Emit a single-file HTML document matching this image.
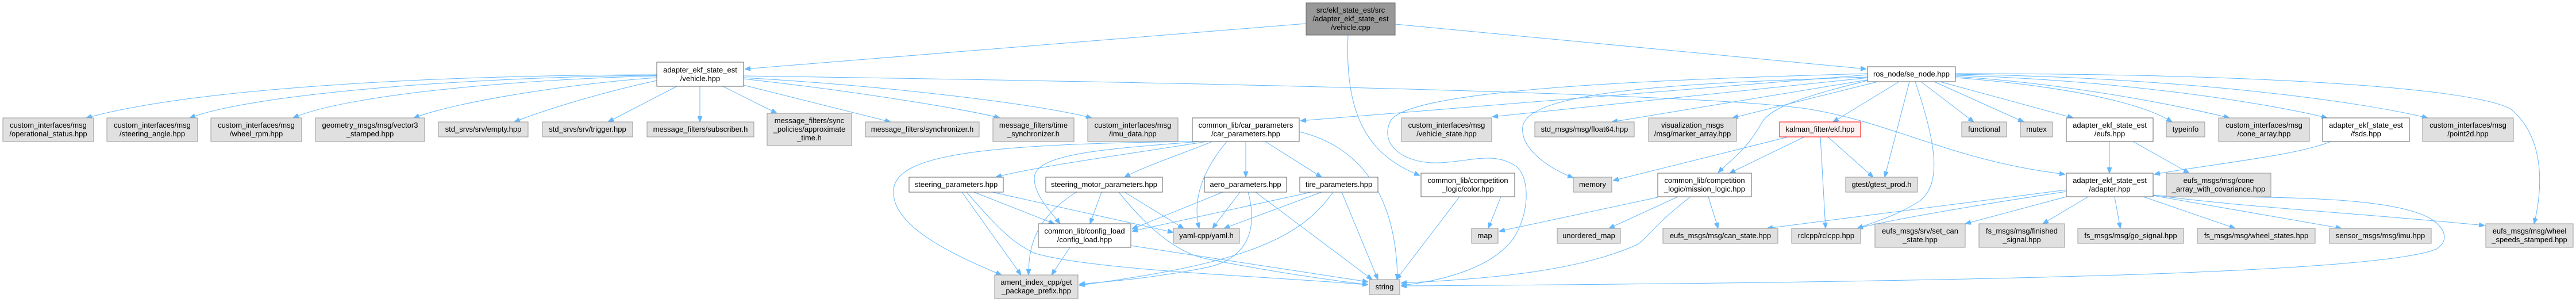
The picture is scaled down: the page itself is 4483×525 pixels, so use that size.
<!DOCTYPE html>
<html><head><meta charset="utf-8"><style>
html,body{margin:0;padding:0;background:#fff;}
svg{display:block;}
text{font-family:"Liberation Sans",Arial,sans-serif;font-size:13px;fill:#000;}
.g{fill:#e0e0e0;stroke:#999;stroke-width:1;}
.w{fill:#fff;stroke:#666;stroke-width:1;}
.d{fill:#999;stroke:#666;stroke-width:1;}
.r{fill:#fff0f0;stroke:#f00;stroke-width:1;}
path.e{fill:none;stroke:#63b8ff;stroke-width:1;marker-end:url(#a);}
</style></head><body>
<svg width="4483" height="525" viewBox="0 0 4483 525" xmlns="http://www.w3.org/2000/svg">
<defs><marker id="a" viewBox="0 0 10 8" refX="10" refY="4" markerWidth="10" markerHeight="8" markerUnits="userSpaceOnUse" orient="auto"><path d="M0,0 L10,4 L0,8z" fill="#63b8ff" stroke="#63b8ff"/></marker></defs>

<!-- edges -->
<g>
<path class="e" d="M2273,41 L1296,120"/>
<path class="e" d="M2428,42 L3248,120"/>
<path class="e" d="M2346,61 C2340,200 2380,270 2471,305"/>

<path class="e" d="M1143,130 C800,130 350,150 150,205"/>
<path class="e" d="M1143,131 C850,133 450,160 330,205"/>
<path class="e" d="M1143,132 C900,138 600,165 510,205"/>
<path class="e" d="M1143,135 C1000,145 800,175 720,205"/>
<path class="e" d="M1143,140 C1050,160 950,190 895,212"/>
<path class="e" d="M1178,150 L1058,212"/>
<path class="e" d="M1218,150 L1218,212"/>
<path class="e" d="M1258,150 L1352,197"/>
<path class="e" d="M1294,148 L1550,212"/>
<path class="e" d="M1294,137 C1500,160 1680,190 1740,205"/>
<path class="e" d="M1294,135 C1550,150 1800,180 1900,205"/>
<path class="e" d="M1294,132 C2200,145 3000,165 3150,190 C3300,215 3400,280 3594,303"/>

<path class="e" d="M3250,130 L2263,210"/>
<path class="e" d="M3252,135 L2597,203"/>
<path class="e" d="M3255,138 L2805,212"/>
<path class="e" d="M3268,142 L3015,205"/>
<path class="e" d="M3305,142 L3190,212"/>
<path class="e" d="M3250,134 C2900,145 2660,160 2650,220 C2645,260 2700,295 2738,309"/>
<path class="e" d="M3250,128 C2800,140 2450,160 2420,210 C2400,250 2440,285 2505,283 C2560,281 2600,262 2640,290 C2670,320 2655,400 2620,430 C2580,470 2500,490 2438,496"/>
<path class="e" d="M3250,140 C3150,165 3080,185 3065,215 C3040,260 3010,280 2990,300"/>
<path class="e" d="M3323,142 L3280,308"/>
<path class="e" d="M3333,142 C3370,250 3380,320 3340,350 C3300,375 3265,385 3232,397"/>
<path class="e" d="M3343,142 L3435,212"/>
<path class="e" d="M3366,142 L3522,212"/>
<path class="e" d="M3376,142 L3608,205"/>
<path class="e" d="M3403,135 C3600,150 3730,180 3780,212"/>
<path class="e" d="M3403,133 C3600,145 3800,185 3880,205"/>
<path class="e" d="M3403,131 C3700,140 3950,180 4050,205"/>
<path class="e" d="M3403,129 C3800,135 4100,175 4225,205"/>
<path class="e" d="M3403,128 C3900,128 4300,150 4370,190 C4430,240 4425,330 4410,389"/>

<path class="e" d="M3112,238 L2807,314"/>
<path class="e" d="M3140,238 L3010,301"/>
<path class="e" d="M3168,238 L3177,397"/>
<path class="e" d="M3181,238 L3260,308"/>

<path class="e" d="M3671,246 L3671,301"/>
<path class="e" d="M3712,246 L3810,301"/>
<path class="e" d="M4056,246 C4000,270 3850,285 3749,303"/>

<path class="e" d="M3596,330 C3400,355 3200,380 3075,397"/>
<path class="e" d="M3596,333 C3450,355 3300,380 3232,397"/>
<path class="e" d="M3596,342 L3420,389"/>
<path class="e" d="M3634,342 L3555,389"/>
<path class="e" d="M3680,342 L3690,397"/>
<path class="e" d="M3730,342 L3890,397"/>
<path class="e" d="M3747,340 L4075,397"/>
<path class="e" d="M3747,339 C3900,360 4100,370 4324,392"/>
<path class="e" d="M3747,340 C3900,345 4150,335 4230,380 C4260,400 4260,420 4240,433 C4150,470 3600,490 2438,497"/>

<path class="e" d="M2885,343 L2609,402"/>
<path class="e" d="M2920,342 L2800,397"/>
<path class="e" d="M2973,342 L2990,397"/>
<path class="e" d="M2942,342 C2880,390 2870,410 2850,425 C2750,470 2600,485 2438,492"/>

<path class="e" d="M2612,342 L2590,397"/>
<path class="e" d="M2540,342 L2430,486"/>

<path class="e" d="M2168,246 L2168,308"/>
<path class="e" d="M2202,246 L2300,308"/>
<path class="e" d="M2261,229 C2350,250 2430,320 2432,486"/>
<path class="e" d="M2135,246 C2090,300 2075,350 2087,397"/>
<path class="e" d="M2100,246 C1950,270 1800,290 1733,308"/>
<path class="e" d="M2110,246 C2050,270 1990,290 1957,308"/>
<path class="e" d="M2090,246 C1900,260 1800,270 1800,310 C1800,340 1830,370 1845,389"/>
<path class="e" d="M2085,246 C1700,250 1560,270 1555,330 C1550,390 1650,440 1743,478"/>

<path class="e" d="M1674,334 L1777,478"/>
<path class="e" d="M1695,334 L1835,389"/>
<path class="e" d="M1727,334 L2042,404"/>
<path class="e" d="M1682,334 C1740,400 1760,420 1800,440 C1900,470 2200,480 2381,495"/>

<path class="e" d="M1917,334 L1897,389"/>
<path class="e" d="M1873,334 C1800,380 1790,430 1790,478"/>
<path class="e" d="M1957,334 L2060,397"/>
<path class="e" d="M1947,334 C2000,400 2050,440 2100,450 C2200,470 2300,485 2381,495"/>

<path class="e" d="M2158,334 L2110,397"/>
<path class="e" d="M2128,334 L1970,398"/>
<path class="e" d="M2185,334 L2388,486"/>
<path class="e" d="M2172,334 C2190,400 2170,450 2100,465 C2000,485 1920,490 1878,494"/>

<path class="e" d="M2300,334 L2130,397"/>
<path class="e" d="M2282,334 L1970,402"/>
<path class="e" d="M2320,334 C2260,420 2150,460 1878,496"/>
<path class="e" d="M2335,334 L2398,486"/>

<path class="e" d="M1862,430 L1830,478"/>
<path class="e" d="M1968,427 L2381,490"/>
</g>

<!-- nodes -->
<g text-anchor="middle">
<rect class="d" x="2273" y="5" width="155" height="56"/><text x="2350.5" y="22">src/ekf_state_est/src</text><text x="2350.5" y="37">/adapter_ekf_state_est</text><text x="2350.5" y="52">/vehicle.cpp</text>
<rect class="w" x="1143" y="108" width="151" height="42"/><text x="1218.5" y="126">adapter_ekf_state_est</text><text x="1218.5" y="141">/vehicle.hpp</text>
<rect class="g" x="5" y="205" width="158" height="41"/><text x="84" y="222">custom_interfaces/msg</text><text x="84" y="237">/operational_status.hpp</text>
<rect class="g" x="186" y="205" width="158" height="41"/><text x="265" y="222">custom_interfaces/msg</text><text x="265" y="237">/steering_angle.hpp</text>
<rect class="g" x="367" y="205" width="158" height="41"/><text x="446" y="222">custom_interfaces/msg</text><text x="446" y="237">/wheel_rpm.hpp</text>
<rect class="g" x="549" y="205" width="190" height="41"/><text x="644" y="222">geometry_msgs/msg/vector3</text><text x="644" y="237">_stamped.hpp</text>
<rect class="g" x="763" y="212" width="156" height="26"/><text x="841" y="229">std_srvs/srv/empty.hpp</text>
<rect class="g" x="944" y="212" width="157" height="26"/><text x="1022.5" y="229">std_srvs/srv/trigger.hpp</text>
<rect class="g" x="1126" y="212" width="186" height="26"/><text x="1219" y="229">message_filters/subscriber.h</text>
<rect class="g" x="1335" y="197" width="147" height="56"/><text x="1408.5" y="214">message_filters/sync</text><text x="1408.5" y="229">_policies/approximate</text><text x="1408.5" y="244">_time.h</text>
<rect class="g" x="1506" y="212" width="198" height="26"/><text x="1605" y="229">message_filters/synchronizer.h</text>
<rect class="g" x="1728" y="205" width="141" height="41"/><text x="1798.5" y="222">message_filters/time</text><text x="1798.5" y="237">_synchronizer.h</text>
<rect class="g" x="1893" y="205" width="157" height="41"/><text x="1971.5" y="222">custom_interfaces/msg</text><text x="1971.5" y="237">/imu_data.hpp</text>
<rect class="w" x="2075" y="205" width="186" height="41"/><text x="2168" y="222">common_lib/car_parameters</text><text x="2168" y="237">/car_parameters.hpp</text>
<rect class="g" x="2439" y="205" width="157" height="41"/><text x="2517.5" y="222">custom_interfaces/msg</text><text x="2517.5" y="237">/vehicle_state.hpp</text>
<rect class="g" x="2671" y="212" width="173" height="26"/><text x="2757.5" y="229">std_msgs/msg/float64.hpp</text>
<rect class="g" x="2869" y="205" width="153" height="41"/><text x="2945.5" y="222">visualization_msgs</text><text x="2945.5" y="237">/msg/marker_array.hpp</text>
<rect class="r" x="3097" y="212" width="141" height="26"/><text x="3167.5" y="229">kalman_filter/ekf.hpp</text>
<rect class="g" x="3414" y="212" width="78" height="26"/><text x="3453" y="229">functional</text>
<rect class="g" x="3516" y="212" width="56" height="26"/><text x="3544" y="229">mutex</text>
<rect class="w" x="3596" y="205" width="151" height="41"/><text x="3671.5" y="222">adapter_ekf_state_est</text><text x="3671.5" y="237">/eufs.hpp</text>
<rect class="g" x="3770" y="212" width="67" height="26"/><text x="3803.5" y="229">typeinfo</text>
<rect class="g" x="3861" y="205" width="158" height="41"/><text x="3940" y="222">custom_interfaces/msg</text><text x="3940" y="237">/cone_array.hpp</text>
<rect class="w" x="4042" y="205" width="151" height="41"/><text x="4117.5" y="222">adapter_ekf_state_est</text><text x="4117.5" y="237">/fsds.hpp</text>
<rect class="g" x="4216" y="205" width="158" height="41"/><text x="4295" y="222">custom_interfaces/msg</text><text x="4295" y="237">/point2d.hpp</text>
<rect class="w" x="3250" y="116" width="153" height="26"/><text x="3326.5" y="133">ros_node/se_node.hpp</text>
<rect class="w" x="1582" y="308" width="164" height="26"/><text x="1664" y="325">steering_parameters.hpp</text>
<rect class="w" x="1820" y="308" width="203" height="26"/><text x="1921.5" y="325">steering_motor_parameters.hpp</text>
<rect class="w" x="2096" y="308" width="143" height="26"/><text x="2167.5" y="325">aero_parameters.hpp</text>
<rect class="w" x="2262" y="308" width="136" height="26"/><text x="2330" y="325">tire_parameters.hpp</text>
<rect class="w" x="2473" y="301" width="163" height="41"/><text x="2554.5" y="318">common_lib/competition</text><text x="2554.5" y="333">_logic/color.hpp</text>
<rect class="g" x="2738" y="308" width="67" height="26"/><text x="2771.5" y="325">memory</text>
<rect class="w" x="2885" y="301" width="163" height="41"/><text x="2966.5" y="318">common_lib/competition</text><text x="2966.5" y="333">_logic/mission_logic.hpp</text>
<rect class="g" x="3212" y="308" width="125" height="26"/><text x="3274.5" y="325">gtest/gtest_prod.h</text>
<rect class="w" x="3596" y="301" width="151" height="41"/><text x="3671.5" y="318">adapter_ekf_state_est</text><text x="3671.5" y="333">/adapter.hpp</text>
<rect class="g" x="3770" y="301" width="182" height="41"/><text x="3861" y="318">eufs_msgs/msg/cone</text><text x="3861" y="333">_array_with_covariance.hpp</text>
<rect class="w" x="1807" y="389" width="161" height="41"/><text x="1887.5" y="406">common_lib/config_load</text><text x="1887.5" y="421">/config_load.hpp</text>
<rect class="g" x="2042" y="397" width="115" height="26"/><text x="2099.5" y="414">yaml-cpp/yaml.h</text>
<rect class="g" x="2561" y="397" width="46" height="26"/><text x="2584" y="414">map</text>
<rect class="g" x="2710" y="397" width="110" height="26"/><text x="2765" y="414">unordered_map</text>
<rect class="g" x="2894" y="397" width="200" height="26"/><text x="2994" y="414">eufs_msgs/msg/can_state.hpp</text>
<rect class="g" x="3118" y="397" width="120" height="26"/><text x="3178" y="414">rclcpp/rclcpp.hpp</text>
<rect class="g" x="3263" y="389" width="157" height="41"/><text x="3341.5" y="406">eufs_msgs/srv/set_can</text><text x="3341.5" y="421">_state.hpp</text>
<rect class="g" x="3444" y="389" width="149" height="41"/><text x="3518.5" y="406">fs_msgs/msg/finished</text><text x="3518.5" y="421">_signal.hpp</text>
<rect class="g" x="3616" y="397" width="184" height="26"/><text x="3708" y="414">fs_msgs/msg/go_signal.hpp</text>
<rect class="g" x="3824" y="397" width="205" height="26"/><text x="3926.5" y="414">fs_msgs/msg/wheel_states.hpp</text>
<rect class="g" x="4054" y="397" width="177" height="26"/><text x="4142.5" y="414">sensor_msgs/msg/imu.hpp</text>
<rect class="g" x="4326" y="389" width="152" height="41"/><text x="4402" y="406">eufs_msgs/msg/wheel</text><text x="4402" y="421">_speeds_stamped.hpp</text>
<rect class="g" x="1731" y="478" width="145" height="41"/><text x="1803.5" y="495">ament_index_cpp/get</text><text x="1803.5" y="510">_package_prefix.hpp</text>
<rect class="g" x="2383" y="486" width="53" height="26"/><text x="2409.5" y="503">string</text>
</g>
</svg>
</body></html>
